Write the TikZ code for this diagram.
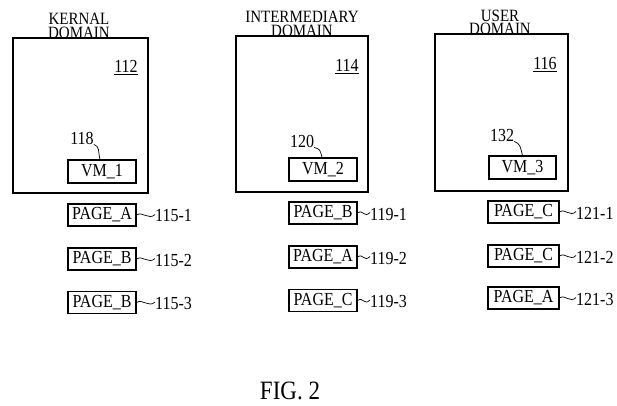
\documentclass[tikz,border=0pt]{standalone}
\usepackage{fontspec}
\usepackage{graphicx}
\setmainfont{Liberation Serif}
\newcommand\vs[1]{\scalebox{1}[1.15]{#1}}
\tikzset{
  dom/.style={draw, line width=1.1pt, inner sep=0pt},
  vmbox/.style={draw, line width=1.1pt, minimum width=68pt, minimum height=23pt, inner sep=0pt, font=\fontsize{16}{16}\selectfont},
  pg/.style={draw, line width=1.1pt, minimum width=68pt, minimum height=22pt, inner sep=0pt, font=\fontsize{16}{16}\selectfont},
  ttl/.style={inner sep=0pt, anchor=base, font=\fontsize{15}{15}\selectfont},
  num/.style={inner sep=0pt, font=\fontsize{16}{16}\selectfont},
  lead/.style={line width=0.7pt},
}
\begin{document}
\begin{tikzpicture}[x=1pt,y=-1pt]
\useasboundingbox (0,0) rectangle (617,405);
% domains
\node[dom, minimum width=135pt, minimum height=155pt] (k) at (80.5,115.5) {};
\node[dom, minimum width=132pt, minimum height=156pt] (i) at (302,114) {};
\node[dom, minimum width=133pt, minimum height=157pt] (u) at (501.5,112.5) {};
% titles
\node[ttl] (kt1) at (79,24.5) {\vs{KERNAL}};
\node[ttl] (kt2) at (79,38) {\vs{DOMAIN}};
\node[ttl] (it1) at (302,22.5) {\vs{INTERMEDIARY}};
\node[ttl] (it2) at (302,36) {\vs{DOMAIN}};
\node[ttl] (ut1) at (500,21) {\vs{USER}};
\node[ttl] (ut2) at (500,34) {\vs{DOMAIN}};
% numbers
\node[num] (n112) at (126,68) {\vs{\underline{112}}};
\node[num] (n114) at (347,67) {\vs{\underline{114}}};
\node[num] (n116) at (545,65) {\vs{\underline{116}}};
% VM boxes
\node[vmbox] (vm1) at (102,171.5) {\vs{VM\_1}};
\node[vmbox] (vm2) at (323,169.5) {\vs{VM\_2}};
\node[vmbox, minimum width=67pt] (vm3) at (522.5,167.5) {\vs{VM\_3}};
\node[num] (l118) at (82,138) {\vs{118}};
\node[num] (l120) at (302,141) {\vs{120}};
\node[num] (l132) at (502,135) {\vs{132}};
\draw[lead] (l118.south east) .. controls +(6,2) and +(-2,-8) .. ([xshift=-2pt]vm1.north);
\draw[lead] (l120.south east) .. controls +(6,2) and +(-2,-8) .. ([xshift=-1pt]vm2.north);
\draw[lead] (l132.south east) .. controls +(6,2) and +(-2,-8) .. ([xshift=0pt]vm3.north);
% pages column 1
\node[pg] (p11) at (102,215) {\vs{PAGE\_A}};
\node[pg] (p12) at (102,259) {\vs{PAGE\_B}};
\node[pg] (p13) at (102,302.5) {\vs{PAGE\_B}};
\node[num, anchor=west] (t11) at (155,216) {\vs{115-1}};
\node[num, anchor=west] (t12) at (155,260) {\vs{115-2}};
\node[num, anchor=west] (t13) at (155,303.5) {\vs{115-3}};
% pages column 2
\node[pg] (p21) at (323,213) {\vs{PAGE\_B}};
\node[pg] (p22) at (323,257) {\vs{PAGE\_A}};
\node[pg] (p23) at (323,300.5) {\vs{PAGE\_C}};
\node[num, anchor=west] (t21) at (370,214) {\vs{119-1}};
\node[num, anchor=west] (t22) at (370,258) {\vs{119-2}};
\node[num, anchor=west] (t23) at (370,301.5) {\vs{119-3}};
% pages column 3
\node[pg, minimum width=71pt] (p31) at (523.5,212) {\vs{PAGE\_C}};
\node[pg, minimum width=71pt] (p32) at (523.5,256) {\vs{PAGE\_C}};
\node[pg, minimum width=71pt] (p33) at (523.5,298) {\vs{PAGE\_A}};
\node[num, anchor=west] (t31) at (576,213) {\vs{121-1}};
\node[num, anchor=west] (t32) at (576,257) {\vs{121-2}};
\node[num, anchor=west] (t33) at (576,299) {\vs{121-3}};
% tildes
\foreach \p/\t in {p11/t11,p12/t12,p13/t13,p21/t21,p22/t22,p23/t23,p31/t31,p32/t32,p33/t33}{
  \draw[lead] (\p.east) .. controls +(6,-4) and +(-6,6) .. ([xshift=0pt,yshift=1.5pt]\t.west);
}
% caption
\node[inner sep=0pt, font=\fontsize{23}{24}\selectfont] (fig) at (290,391) {\vs{FIG. 2}};
\end{tikzpicture}
\end{document}
